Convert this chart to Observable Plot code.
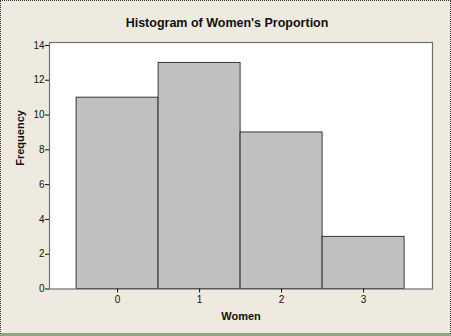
<!DOCTYPE html>
<html>
<head>
<meta charset="utf-8">
<script src="https://cdn.jsdelivr.net/npm/d3@7"></script>
<script src="https://cdn.jsdelivr.net/npm/@observablehq/plot@0.6"></script>
<style>
  html, body { margin: 0; padding: 0; background: #EEEAE0; }
  #chart { width: 451px; height: 336px; overflow: hidden; position: relative; }
  #chart svg { display: block; }
  #edge { position: absolute; left: 0; top: 0; width: 451px; height: 336px; box-sizing: border-box;
          border-top: 1px dotted #333; border-left: 1px dotted #333; border-right: 1px dotted #333;
          border-bottom: 3px solid #8FA67E; pointer-events: none; }
</style>
</head>
<body>
<div id="chart"></div>
<script>
const categories = [0, 1, 2, 3];
const counts = [11, 13, 9, 3];
const yTicks = [0, 2, 4, 6, 8, 10, 12, 14];
const xTicks = [0, 1, 2, 3];
const title = "Histogram of Women's Proportion";

const data = categories.map((c, i) => ({x1: c - 0.5, x2: c + 0.5, count: counts[i]}));

const chart = Plot.plot({
  width: 451,
  height: 336,
  marginLeft: 49,
  marginRight: 19,
  marginTop: 42,
  marginBottom: 47.5,
  style: {background: "#EEEAE0", fontFamily: "'Liberation Sans', Arial, sans-serif", fontSize: "10px", color: "#111"},
  x: {domain: [-0.83, 3.84]},
  y: {domain: [0, 14.17]},
  marks: [
    Plot.frame({fill: "white", stroke: "none"}),
    Plot.rectY(data, {x1: "x1", x2: "x2", y: "count", fill: "#C0C0C0", stroke: "#111", strokeWidth: 0.8}),
    Plot.frame({stroke: "#707070", strokeWidth: 1.2}),
    Plot.axisX({ticks: xTicks, tickSize: 4, tickPadding: 3, label: null, tickFormat: d => String(d), fontSize: 10}),
    Plot.axisY({ticks: yTicks, tickSize: 4, tickPadding: 1, label: null, tickFormat: d => String(d), fontSize: 10}),
    Plot.text([title], {frameAnchor: "top", dx: -14, dy: -20, lineAnchor: "middle", fontWeight: "bold", fontSize: 12.5, fill: "#111"}),
    Plot.text(["Frequency"], {frameAnchor: "left", dx: -29, rotate: -90, fontWeight: "bold", fontSize: 11, fill: "#111"}),
    Plot.text(["Women"], {frameAnchor: "bottom", dy: 27, lineAnchor: "middle", fontWeight: "bold", fontSize: 11, fill: "#111"})
  ]
});
document.getElementById("chart").appendChild(chart);
const edge = document.createElement("div");
edge.id = "edge";
document.getElementById("chart").appendChild(edge);
</script>
</body>
</html>
